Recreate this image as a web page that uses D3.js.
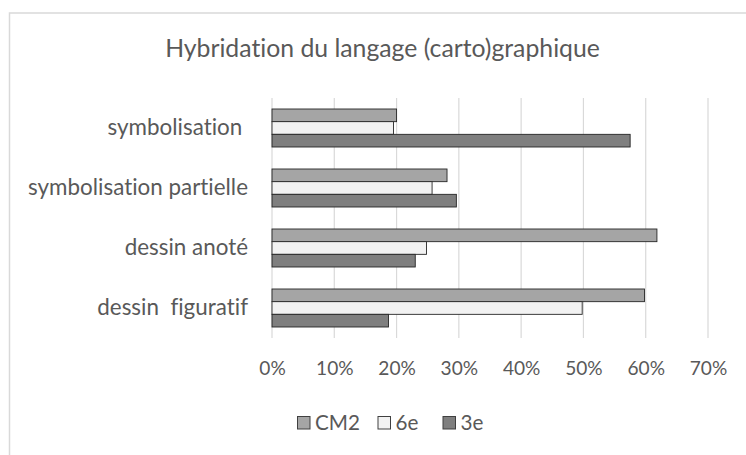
<!DOCTYPE html>
<html><head><meta charset="utf-8">
<script src="https://cdn.jsdelivr.net/npm/d3@7"></script>
<style>
html,body{margin:0;padding:0;background:#fff;}
text{font-family:Lato,"Open Sans",sans-serif;fill:#595959;white-space:pre;font-variant-ligatures:none;font-feature-settings:"liga" 0;}
</style></head>
<body><svg id="c" width="746" height="455"></svg>
<script>
const title = "Hybridation du langage (carto)graphique";
const categories = ["symbolisation ", "symbolisation partielle", "dessin anoté", "dessin  figuratif"];
const seriesNames = ["CM2", "6e", "3e"];
const valuesCM2 = [0.20, 0.281, 0.618, 0.598];
const values6e  = [0.195, 0.257, 0.248, 0.498];
const values3e  = [0.575, 0.296, 0.23, 0.187];
const tickValues = [0, 0.1, 0.2, 0.3, 0.4, 0.5, 0.6, 0.7];
const colors = ["#a5a5a5", "#f2f2f2", "#7f7f7f"];
const seriesValues = [valuesCM2, values6e, values3e];

const svg = d3.select("#c");
// outer chart border (clipped at right/bottom)
svg.append("rect").attr("x", 9.5).attr("y", 13).attr("width", 760).attr("height", 460)
  .attr("fill", "none").attr("stroke", "#d9d9d9").attr("stroke-width", 1.5);

function fit(sel, target, base) {
  sel.style("font-size", base + "px");
  const w = sel.node().getComputedTextLength();
  const fs = base * target / w;
  sel.style("font-size", fs + "px");
  return fs;
}

const x = d3.scaleLinear().domain([0, 0.7]).range([272, 708]);
const y = d3.scaleBand().domain(categories).range([98, 338]).paddingInner(22/60).paddingOuter(11/60);
const ys = d3.scaleBand().domain(seriesNames).range([0, y.bandwidth()]);

// title
const t = svg.append("text").attr("x", 382.5).attr("y", 57).attr("text-anchor", "middle").text(title);
fit(t, 435, 24);

// gridlines
svg.append("g").selectAll("line").data(tickValues).join("line")
  .attr("x1", d => x(d)).attr("x2", d => x(d)).attr("y1", 98).attr("y2", 338)
  .attr("stroke", "#d9d9d9").attr("stroke-width", 1.2);

// bars
const rows = [];
categories.forEach((c, i) => seriesNames.forEach((s, j) => rows.push({c, s, v: seriesValues[j][i], col: colors[j]})));
svg.append("g").selectAll("rect").data(rows).join("rect")
  .attr("x", x(0)).attr("y", d => y(d.c) + ys(d.s))
  .attr("width", d => x(d.v) - x(0)).attr("height", ys.bandwidth())
  .attr("fill", d => d.col).attr("stroke", "#262626").attr("stroke-width", 0.9);

// x axis tick labels
const xAxis = d3.axisBottom(x).tickValues(tickValues).tickFormat(d3.format(".0%")).tickSize(0).tickPadding(0);
const gx = svg.append("g").attr("transform", "translate(0,361)").call(xAxis);
gx.select(".domain").remove();
gx.selectAll("text").attr("fill", "#595959").attr("dy", "0.71em");
const tfs = fit(gx.select(".tick:last-of-type text"), 37.5, 20);
gx.selectAll("text").style("font-size", tfs + "px").style("font-family", "Lato");

// category labels
const yAxis = d3.axisLeft(y).tickSize(0).tickPadding(0);
const gy = svg.append("g").attr("transform", "translate(248,0)").call(yAxis);
gy.select(".domain").remove();
gy.selectAll("text").attr("fill", "#595959");
const cfs = fit(gy.selectAll(".tick text").filter(d => d === "symbolisation partielle"), 220, 19);
gy.selectAll("text").style("font-size", cfs + "px").style("font-family", "Lato");

// legend
const lg = svg.append("g");
const legendX = [297, 377.5, 442.5];
let lfs = null;
seriesNames.forEach((s, j) => {
  const lx = legendX[j];
  lg.append("rect").attr("x", lx + 0.5).attr("y", 416.5).attr("width", 12.5).attr("height", 12.5)
    .attr("fill", colors[j]).attr("stroke", "#404040").attr("stroke-width", 1);
  const tx = lg.append("text").attr("x", lx + 18).attr("y", 423).attr("dy", "0.35em").text(s);
  if (lfs === null) lfs = fit(tx, 45, 20);
  tx.style("font-size", lfs + "px");
});
</script></body></html>
